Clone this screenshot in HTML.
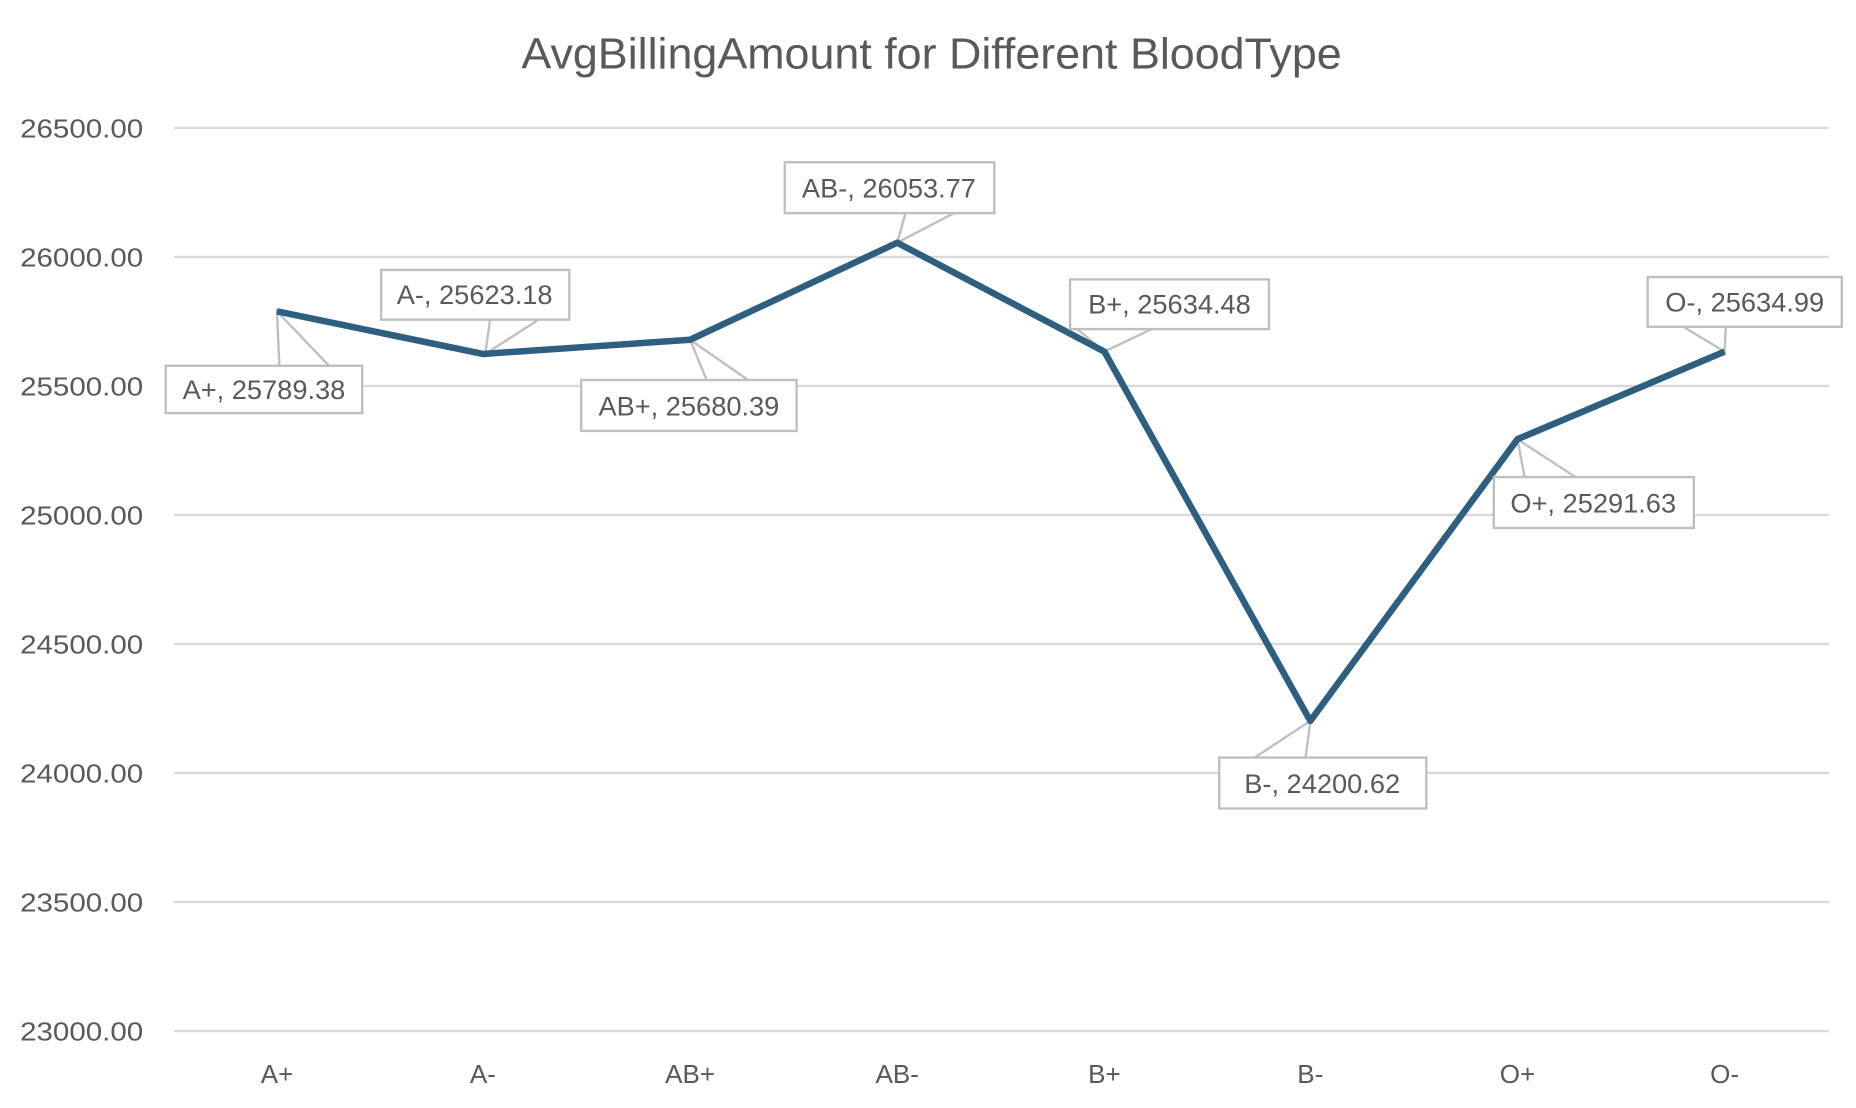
<!DOCTYPE html>
<html><head><meta charset="utf-8"><style>html,body{margin:0;padding:0;background:#fff}svg{display:block}</style></head>
<body>
<svg width="1856" height="1108" viewBox="0 0 1568 936" xmlns="http://www.w3.org/2000/svg" font-family="Liberation Sans, sans-serif">
<rect width="1568" height="936" fill="#fff"/>
<text x="787" y="58" text-anchor="middle" font-size="37" fill="#595959" textLength="693" lengthAdjust="spacingAndGlyphs">AvgBillingAmount for Different BloodType</text>
<g stroke="#d9d9d9" stroke-width="2">
<line x1="147" x2="1545" y1="108" y2="108"/><line x1="147" x2="1545" y1="217" y2="217"/>
<line x1="147" x2="1545" y1="326" y2="326"/><line x1="147" x2="1545" y1="435" y2="435"/>
<line x1="147" x2="1545" y1="544" y2="544"/><line x1="147" x2="1545" y1="653" y2="653"/>
<line x1="147" x2="1545" y1="762" y2="762"/><line x1="147" x2="1545" y1="871" y2="871"/>
</g>
<g font-size="22" fill="#595959" text-anchor="end">
<text x="121" y="116" textLength="104" lengthAdjust="spacingAndGlyphs">26500.00</text><text x="121" y="225" textLength="104" lengthAdjust="spacingAndGlyphs">26000.00</text><text x="121" y="334" textLength="104" lengthAdjust="spacingAndGlyphs">25500.00</text>
<text x="121" y="443" textLength="104" lengthAdjust="spacingAndGlyphs">25000.00</text><text x="121" y="552" textLength="104" lengthAdjust="spacingAndGlyphs">24500.00</text><text x="121" y="661" textLength="104" lengthAdjust="spacingAndGlyphs">24000.00</text>
<text x="121" y="770" textLength="104" lengthAdjust="spacingAndGlyphs">23500.00</text><text x="121" y="879" textLength="104" lengthAdjust="spacingAndGlyphs">23000.00</text>
</g>
<g font-size="22" fill="#595959" text-anchor="middle">
<text x="234" y="915">A+</text><text x="408" y="915">A-</text><text x="583" y="915">AB+</text><text x="758" y="915">AB-</text>
<text x="933" y="915">B+</text><text x="1107" y="915">B-</text><text x="1282" y="915">O+</text><text x="1457" y="915">O-</text>
</g>
<g stroke="#bfbfbf" stroke-width="2" fill="none">
<polyline points="236,309 234,263 278,309"/>
<polyline points="414,270 410,299 455,270"/>
<polyline points="597,321 583,287 632,321"/>
<polyline points="765,180 758,205 806,180"/>
<polyline points="910,278 933,297 973,278"/>
<polyline points="1060,640 1107,609 1103,640"/>
<polyline points="1288,403 1282,371 1331,403"/>
<polyline points="1422,276 1457,297 1458,276"/>
</g>
<polyline points="234,263 408,299 583,287 758,205 933,297 1107,609 1282,371 1457,297" fill="none" stroke="#2e5f80" stroke-width="5.5" stroke-linejoin="round"/>
<g fill="#fff" stroke="#bfbfbf" stroke-width="2">
<rect x="140" y="309" width="166" height="40"/><rect x="322" y="228" width="159" height="42"/>
<rect x="491" y="321" width="182" height="43"/><rect x="663" y="137" width="177" height="43"/>
<rect x="904" y="236" width="168" height="42"/><rect x="1030" y="640" width="175" height="43"/>
<rect x="1262" y="403" width="169" height="43"/><rect x="1392" y="234" width="164" height="42"/>
</g>
<g font-size="23" fill="#595959" text-anchor="middle">
<text x="223" y="337">A+, 25789.38</text><text x="401" y="257">A-, 25623.18</text>
<text x="582" y="351">AB+, 25680.39</text><text x="751" y="167">AB-, 26053.77</text>
<text x="988" y="265">B+, 25634.48</text><text x="1117" y="670">B-, 24200.62</text>
<text x="1346" y="433">O+, 25291.63</text><text x="1474" y="263">O-, 25634.99</text>
</g>
</svg>
</body></html>
